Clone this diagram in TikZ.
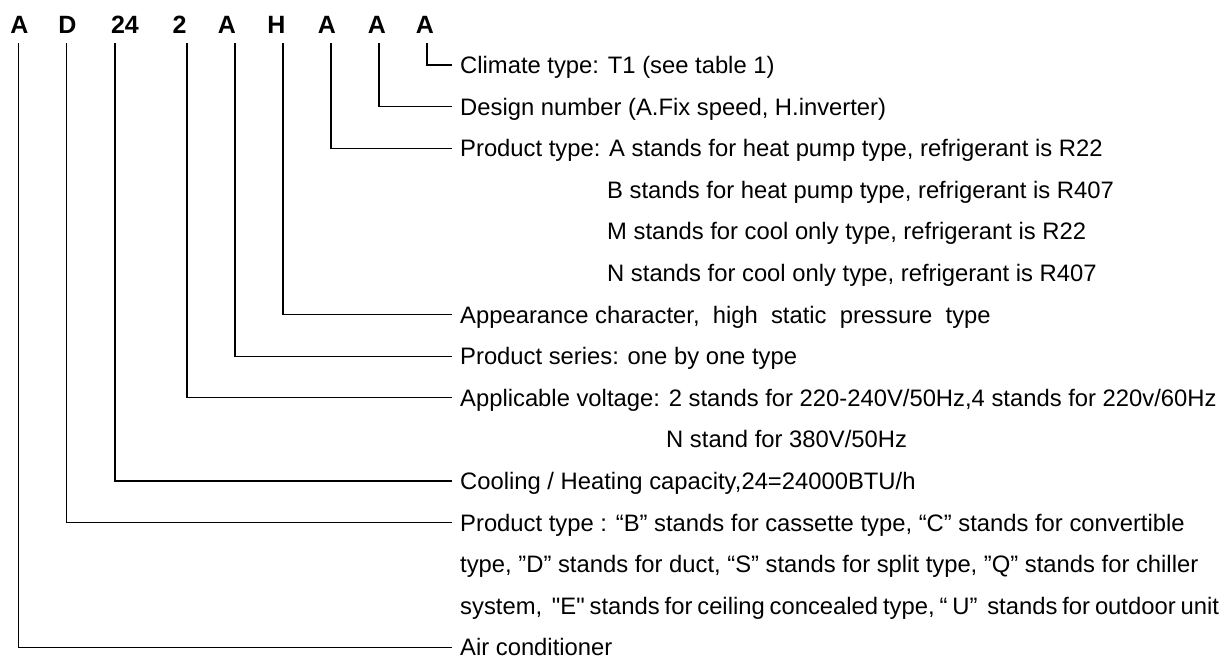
\documentclass[tikz,border=0pt]{standalone}
\usepackage{fontspec}
\newfontfamily\arial{Liberation Sans}
\usepackage{xcolor}
\definecolor{ink}{HTML}{000000}

\tikzset{
  code/.style={ink,font=\arial\fontsize{25}{30}\selectfont\bfseries,anchor=base,inner sep=0pt},
  desc/.style={ink,font=\arial\fontsize{23.8}{28}\selectfont,anchor=west,
    text height=16.8pt,text depth=0pt,inner xsep=8pt,inner ysep=0pt},
  tight/.style={execute at begin node={\spaceskip=4.9pt\relax}},
  cord/.style={ink,line width=1.3pt},
}

\begin{document}
\begin{tikzpicture}[x=1pt,y=-1pt]
  \useasboundingbox (0,0) rectangle (1225,656);

  % Model code along the top
  \foreach \n/\x/\t in {a/19.5/A, b/67.5/D, c/125/24, d/179.5/2, e/227/A, f/276.5/H, g/327/A, h/377/A, i/425/A} {
    \node[code] (code\n) at (\x,33) {\t};
  }

  % Where each leader leaves its letter
  \foreach \n/\x in {a/18.5, b/66.5, c/115, d/187, e/235, f/283, g/331, h/379, i/427} {
    \coordinate (top\n) at (\x,43);
  }

  % Descriptions (one row every 41.6 px)
  \node[desc] (climate)  at (452,65.0)  {Climate type: T1 (see table 1)};
  \node[desc] (design)   at (452,106.6) {Design number (A.Fix speed, H.inverter)};
  \node[desc] (ptype)    at (452,148.2) {Product type: A stands for heat pump type, refrigerant is R22};
  \node[desc] (ptypeb)   at (599,189.8) {B stands for heat pump type, refrigerant is R407};
  \node[desc] (ptypem)   at (599,231.4) {M stands for cool only type, refrigerant is R22};
  \node[desc] (ptypen)   at (599,273.0) {N stands for cool only type, refrigerant is R407};
  \node[desc] (appear)   at (452,314.6) {Appearance character,~ high~ static~ pressure~ type};
  \node[desc] (series)   at (452,356.2) {Product series: one by one type};
  \node[desc] (volt)     at (452,397.8) {Applicable voltage: 2 stands for 220-240V/50Hz,4 stands for 220v/60Hz};
  \node[desc] (voltn)    at (658,439.4) {N stand for 380V/50Hz};
  \node[desc] (capacity) at (452,481.0) {Cooling / Heating capacity,24=24000BTU/h};
  \node[desc] (kind)     at (452,522.6) {Product type : “B” stands for cassette type, “C” stands for convertible};
  \node[desc] (kindb)    at (452,564.2) {type, ”D” stands for duct, “S” stands for split type, ”Q” stands for chiller};
  \node[desc,tight] (kindc) at (452,605.8) {system,~ "E" stands for ceiling concealed type, “ U”~ stands for outdoor unit};
  \node[desc] (aircon)   at (452,647.4) {Air conditioner};

  % Leaders from each letter down and across to its text
  \foreach \n/\d in {i/climate, h/design, g/ptype, f/appear, e/series, d/volt, c/capacity, b/kind, a/aircon} {
    \draw[cord] (top\n) |- (\d.west);
  }
\end{tikzpicture}
\end{document}
